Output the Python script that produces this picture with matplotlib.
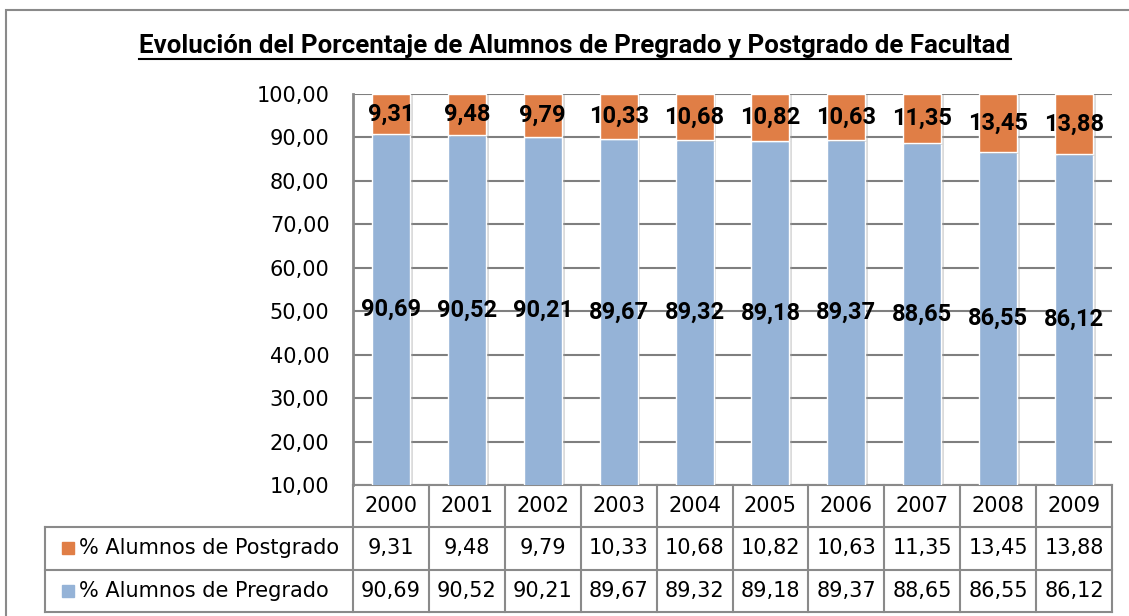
import numpy as np
import matplotlib
matplotlib.use('Agg')
import matplotlib.pyplot as plt
import matplotlib.patheffects as pe
from matplotlib.patches import Rectangle
from matplotlib.transforms import blended_transform_factory

# datos del grafico
years = ['2000', '2001', '2002', '2003', '2004', '2005', '2006', '2007', '2008', '2009']
postgrado = [9.31, 9.48, 9.79, 10.33, 10.68, 10.82, 10.63, 11.35, 13.45, 13.88]
pregrado = [90.69, 90.52, 90.21, 89.67, 89.32, 89.18, 89.37, 88.65, 86.55, 86.12]
series_names = ['% Alumnos de Postgrado', '% Alumnos de Pregrado']
yticks = [10, 20, 30, 40, 50, 60, 70, 80, 90, 100]
title = 'Evolución del Porcentaje de Alumnos de Pregrado y Postgrado de Facultad'

blue = '#95B3D7'
orange = '#E07E46'
gray = '#8a8a8a'
narrow = ['Roboto', 'DejaVu Sans']

def fmt(v):
    return ('%.2f' % v).replace('.', ',')

W, H = 1129, 616
fig = plt.figure(figsize=(W / 100, H / 100), dpi=100)
ax = fig.add_axes([353 / W, (H - 485) / H, (1112 - 353) / W, (485 - 94) / H])

x = np.arange(len(years))
shadow = [pe.SimplePatchShadow(offset=(2, -1), shadow_rgbFace='#999999', alpha=0.35), pe.Normal()]
ax.bar(x, pregrado, 0.5, color=blue, edgecolor='white', linewidth=1, zorder=3, path_effects=shadow)
ax.bar(x, postgrado, 0.5, bottom=pregrado, color=orange, edgecolor='white', linewidth=1, zorder=3,
       path_effects=shadow)

ymin, ymax = yticks[0], yticks[-1]
ax.set_ylim(ymin, ymax)
ax.set_xlim(-0.5, len(years) - 0.5)
ax.set_yticks(yticks)
ax.set_yticklabels([fmt(v) for v in yticks], fontsize=15)
ax.tick_params(axis='y', length=0, pad=17)
ax.set_xticks([])
ax.yaxis.grid(True, color='#7f7f7f', linewidth=1.5)
ax.set_axisbelow(True)
for s in ['top', 'right']:
    ax.spines[s].set_visible(False)
ax.spines['left'].set_color(gray)
ax.spines['left'].set_linewidth(2)
ax.spines['bottom'].set_color(gray)
ax.spines['bottom'].set_linewidth(1.5)

# etiquetas de datos
for i in range(len(years)):
    ax.text(x[i], pregrado[i] + postgrado[i] / 2, fmt(postgrado[i]), ha='center', va='center',
            fontsize=17, fontweight='bold', family=narrow, zorder=5)
    ax.text(x[i], (ymin + pregrado[i]) / 2, fmt(pregrado[i]), ha='center', va='center',
            fontsize=17, fontweight='bold', family=narrow, zorder=5)

# tabla de datos debajo del grafico
tr = blended_transform_factory(ax.transData, ax.transAxes)
rh = 42.3 / 391
left = -0.5 - (353 - 45) / 75.9
right = len(years) - 0.5
lk = dict(color=gray, linewidth=1.5, transform=tr, clip_on=False)
for i in range(len(years) + 1):
    ax.plot([i - 0.5, i - 0.5], [0, -3 * rh], **lk)
ax.plot([left, left], [-rh, -3 * rh], **lk)
for k in [1, 2, 3]:
    ax.plot([left, right], [-k * rh, -k * rh], **lk)

for i in range(len(years)):
    ax.text(x[i], -0.5 * rh, years[i], ha='center', va='center', fontsize=15, transform=tr)
    ax.text(x[i], -1.5 * rh, fmt(postgrado[i]), ha='center', va='center', fontsize=15, transform=tr)
    ax.text(x[i], -2.5 * rh, fmt(pregrado[i]), ha='center', va='center', fontsize=15, transform=tr)

for k, (name, col) in enumerate(zip(series_names, [orange, blue])):
    yy = -(1.5 + k) * rh
    ax.plot([left + 0.3], [yy], marker='s', markersize=8, color=col, transform=tr, clip_on=False)
    ax.text(left + 0.45, yy, name, ha='left', va='center', fontsize=15, transform=tr)

# marco exterior
fig.add_artist(Rectangle((6 / W, -0.1), 2, (H - 10) / H + 0.1, fill=False, edgecolor=gray,
                         linewidth=1.5, transform=fig.transFigure))

# titulo subrayado
t = fig.text(575 / W, 1 - 46 / H, title, ha='center', va='center', fontsize=18.6,
             fontweight='bold', family=narrow)
fig.canvas.draw()
bb = t.get_window_extent()
fig.add_artist(plt.Line2D([bb.x0 / W, bb.x1 / W], [(bb.y0 - 1) / H, (bb.y0 - 1) / H],
                          color='black', linewidth=1.5, transform=fig.transFigure))

fig.savefig('out.png', dpi=100)
